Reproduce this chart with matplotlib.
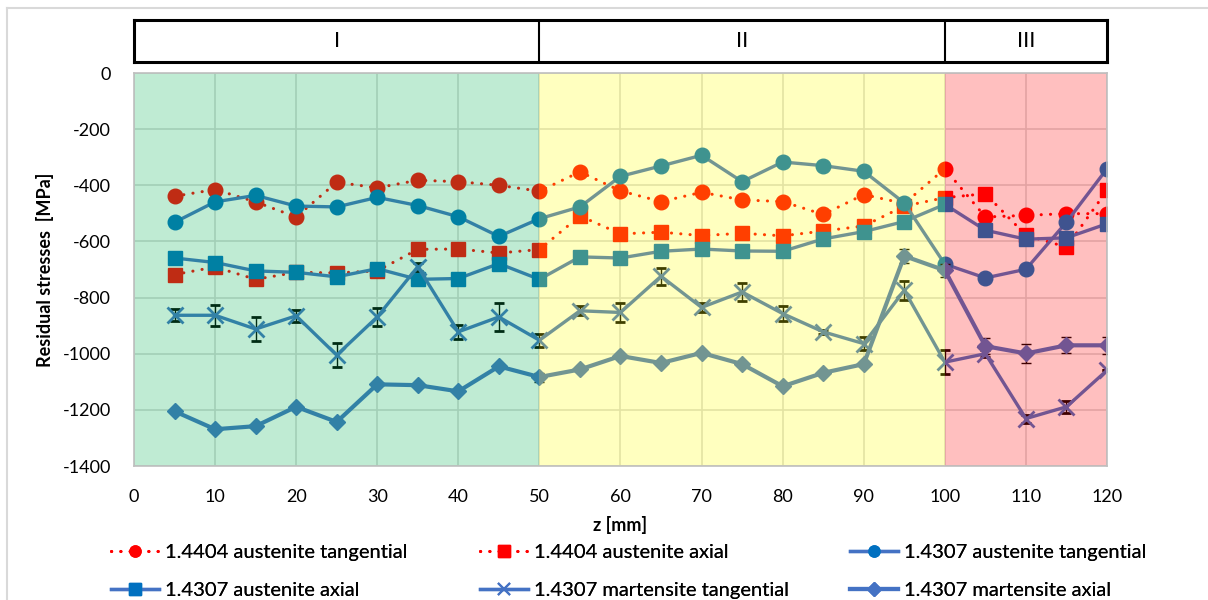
import matplotlib
matplotlib.use("Agg")
import matplotlib.pyplot as plt
from matplotlib.lines import Line2D

plt.rcParams["axes.unicode_minus"] = False

# Measurement positions along the part [mm]
z = [5, 10, 15, 20, 25, 30, 35, 40, 45, 50, 55, 60,
     65, 70, 75, 80, 85, 90, 95, 100, 105, 110, 115, 120]

# Residual stresses [MPa]
aus4404_tang = [-439, -415, -459, -513, -389, -409, -382, -387, -400, -421, -352, -420,
                -458, -425, -452, -458, -504, -433, -465, -341, -513, -507, -501, -501]
aus4404_axial = [-718, -691, -735, -710, -712, -705, -628, -627, -641, -629, -509, -573,
                 -567, -579, -571, -580, -563, -545, -474, -444, -430, -578, -620, -418]
aus4307_tang = [-532, -459, -436, -474, -477, -443, -472, -512, -582, -519, -477, -368,
                -331, -293, -387, -317, -330, -350, -463, -681, -730, -699, -531, -341]
aus4307_axial = [-659, -675, -705, -710, -726, -697, -735, -732, -679, -735, -655, -659,
                 -635, -627, -634, -635, -591, -565, -529, -468, -560, -592, -587, -537]
mart4307_tang = [-863, -863, -912, -865, -1005, -869, -690, -922, -869, -952, -847, -853,
                 -724, -835, -780, -857, -922, -964, -774, -1030, -1000, -1231, -1189, -1059]
mart4307_tang_err = [22, 38, 42, 22, 42, 33, 14, 26, 50, 23, 16, 35,
                     31, 17, 33, 27, 8, 24, 33, 42, 12, 14, 22, 0]
mart4307_axial = [-1205, -1269, -1258, -1189, -1243, -1109, -1112, -1134, -1045, -1083, -1056, -1008,
                  -1033, -997, -1037, -1116, -1068, -1037, -652, -703, -973, -999, -970, -970]
mart4307_axial_err = [0, 0, 0, 0, 0, 0, 0, 0, 0, 16, 0, 0,
                      0, 0, 0, 0, 0, 0, 24, 22, 28, 33, 28, 30]

series_labels = ["1.4404 austenite tangential", "1.4404 austenite axial",
                 "1.4307 austenite tangential", "1.4307 austenite axial",
                 "1.4307 martensite tangential", "1.4307 martensite axial"]

# Zones along z
zone_edges = [0, 50, 100, 120]
zone_names = ["I", "II", "III"]
zone_colors = ["#00B050", "#FFFF00", "#FF0000"]

x_ticks = list(range(0, 121, 10))
y_ticks = list(range(-1400, 1, 200))

RED = "#FF0000"
BLUE = "#0070C0"
LINE_BLUE = "#4472C4"
FONT = "Lato"
DOTTED = (0, (0.05, 3.0))


def plot_stresses(ax):
    ax.plot(z, aus4404_tang, color=RED, lw=2.2, linestyle=DOTTED, dash_capstyle="round",
            marker="o", ms=10.5, mec=RED, mfc=RED, zorder=3)
    ax.plot(z, aus4404_axial, color=RED, lw=2.2, linestyle=DOTTED, dash_capstyle="round",
            marker="s", ms=9.5, mec=RED, mfc=RED, zorder=3)
    ax.plot(z, aus4307_tang, color=LINE_BLUE, lw=2.4,
            marker="o", ms=10.5, mec=BLUE, mfc=BLUE, zorder=3)
    ax.plot(z, aus4307_axial, color=LINE_BLUE, lw=2.4,
            marker="s", ms=9.5, mec=BLUE, mfc=BLUE, zorder=3)
    ax.errorbar(z, mart4307_tang, yerr=mart4307_tang_err, color=LINE_BLUE, lw=2.4,
                marker="x", ms=11, mew=2.0, ecolor="black", elinewidth=1.0,
                capsize=3.5, capthick=1.0, zorder=3)
    ax.errorbar(z, mart4307_axial, yerr=mart4307_axial_err, color=LINE_BLUE, lw=3.0,
                marker="D", ms=8.5, mec=LINE_BLUE, mfc=LINE_BLUE, ecolor="black",
                elinewidth=1.0, capsize=3.5, capthick=1.0, zorder=3)

    # translucent zone shading sits on top of the data
    for i in range(len(zone_names)):
        ax.axvspan(zone_edges[i], zone_edges[i + 1], color=zone_colors[i],
                   alpha=0.25, lw=0, zorder=5)

    ax.set_xlim(0, 120)
    ax.set_ylim(-1400, 0)
    ax.set_xticks(x_ticks)
    ax.set_yticks(y_ticks)
    ax.tick_params(length=0, labelsize=13, pad=16.5)
    for lab in ax.get_xticklabels() + ax.get_yticklabels():
        lab.set_fontfamily(FONT)
    ax.grid(True, color="#D9D9D9", lw=1.2, zorder=1)
    ax.set_axisbelow(True)
    for sp in ax.spines.values():
        sp.set_color("#BFBFBF")
        sp.set_linewidth(1.2)
        sp.set_zorder(6)

    ax.set_xlabel("z [mm]", fontsize=13, fontweight="bold", family=FONT, labelpad=8)
    ax.set_ylabel("Residual stresses  [MPa]", fontsize=13, fontweight="bold",
                  family=FONT, labelpad=6)


def plot_zones(zax):
    zax.set_xlim(0, 120)
    zax.set_ylim(0, 1)
    zax.set_xticks([])
    zax.set_yticks([])
    for sp in zax.spines.values():
        sp.set_linewidth(2.2)
        sp.set_color("black")
    for edge in zone_edges[1:-1]:
        zax.axvline(edge, color="black", lw=1.5)
    for i, name in enumerate(zone_names):
        mid = (zone_edges[i] + zone_edges[i + 1]) / 2
        zax.text(mid, 0.5, name, ha="center", va="center", fontsize=16, family=FONT)


def add_legend(fig):
    handles = [
        Line2D([], [], color=RED, lw=2.2, linestyle=DOTTED, dash_capstyle="round",
               marker="o", ms=8, mec=RED, mfc=RED),
        Line2D([], [], color=RED, lw=2.2, linestyle=DOTTED, dash_capstyle="round",
               marker="s", ms=8, mec=RED, mfc=RED),
        Line2D([], [], color=LINE_BLUE, lw=2.4, marker="o", ms=8, mec=BLUE, mfc=BLUE),
        Line2D([], [], color=LINE_BLUE, lw=2.4, marker="s", ms=8, mec=BLUE, mfc=BLUE),
        Line2D([], [], color=LINE_BLUE, lw=2.4, marker="x", ms=9, mew=1.5),
        Line2D([], [], color=LINE_BLUE, lw=3.0, marker="D", ms=7, mec=LINE_BLUE, mfc=LINE_BLUE),
    ]
    # one legend per column, entries i and i+3 stacked
    col_left = [111, 480, 850]
    W, H = fig.get_size_inches() * fig.dpi
    for c, left in enumerate(col_left):
        leg = fig.legend([handles[c], handles[c + 3]],
                         [series_labels[c], series_labels[c + 3]],
                         loc="upper left", bbox_to_anchor=(left / W, 1 - 544 / H),
                         frameon=False, borderpad=0, borderaxespad=0,
                         handlelength=2.4, handletextpad=0.3, labelspacing=1.05,
                         prop={"family": FONT, "size": 14.5})
        fig.add_artist(leg)


def main():
    fig = plt.figure(figsize=(12.08, 6.0), dpi=100)
    ax = fig.add_axes([0.1109, 0.2233, 0.8055, 0.655])
    zax = fig.add_axes([0.1109, 0.8967, 0.8055, 0.07])

    plot_stresses(ax)
    plot_zones(zax)
    add_legend(fig)

    # chart frame
    fig.add_artist(Line2D([0.0055, 0.0055], [0.0, 0.987], color="#D9D9D9", lw=1.5))
    fig.add_artist(Line2D([0.0055, 1.0], [0.987, 0.987], color="#D9D9D9", lw=1.5))

    fig.savefig("out.png", dpi=100)


if __name__ == "__main__":
    main()
